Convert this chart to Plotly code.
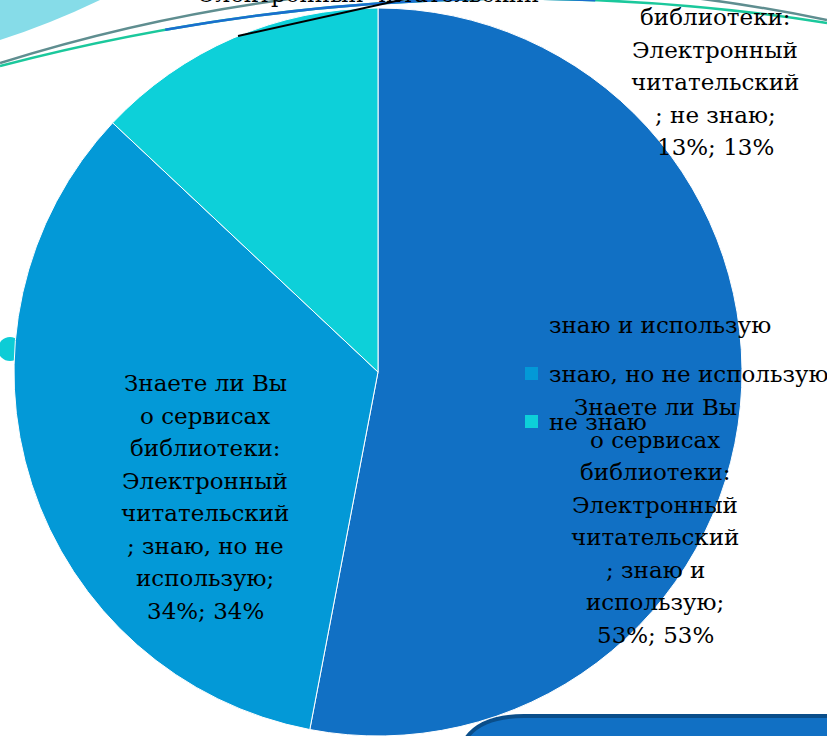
import plotly.graph_objects as go

W, H = 827, 736

categories = ["знаю и использую", "знаю, но не использую", "не знаю"]
values = [53, 34, 13]
colors = ["#1170C4", "#0399D7", "#0DD0D9"]
question_lines = ["Знаете ли Вы", "о сервисах", "библиотеки:", "Электронный", "читательский"]
label_suffix = [["; знаю и", "использую;"], ["; знаю, но не", "использую;"], ["; не знаю;"]]


def px(x, y):
    return x / W, 1 - y / H


def P(x, y):
    a, b = px(x, y)
    return f"{a:.5f},{b:.5f}"


def quad_split(p0, p1, p2, t0, t1):
    """Sub-curve of a quadratic bezier between t0 and t1."""
    def pt(t):
        return tuple((1 - t) ** 2 * a + 2 * t * (1 - t) * b + t ** 2 * c for a, b, c in zip(p0, p1, p2))

    def d(t):
        return tuple(2 * (1 - t) * (b - a) + 2 * t * (c - b) for a, b, c in zip(p0, p1, p2))

    s, e = pt(t0), pt(t1)
    ds = d(t0)
    h = (t1 - t0) / 2
    ctrl = (s[0] + ds[0] * h, s[1] + ds[1] * h)
    return s, ctrl, e


# pie geometry (pixels): center (378, 372), radius 364
cx, cy, r = 378, 372, 364
dom_x = [(cx - r) / W, (cx + r) / W]
dom_y = [max(0, 1 - (cy + r) / H), min(1, 1 - (cy - r) / H)]

fig = go.Figure(go.Pie(
    labels=categories, values=values, sort=False, direction="clockwise", rotation=0,
    marker=dict(colors=colors, line=dict(color="white", width=1)),
    textinfo="none", hoverinfo="label+percent", showlegend=False,
    domain=dict(x=dom_x, y=dom_y),
))

shapes = []
# small cyan circle behind pie
shapes.append(dict(type="circle", xref="paper", yref="paper", layer="below",
                   x0=px(-2, 0)[0], x1=px(22, 0)[0], y0=px(0, 361)[1], y1=px(0, 337)[1],
                   fillcolor="#0DCCD6", line=dict(width=0)))
# top-left light cyan shape
shapes.append(dict(type="path", xref="paper", yref="paper", layer="above",
                   path=f"M {P(0,0)} L {P(100,0)} Q {P(50,24)} {P(0,40)} Z",
                   fillcolor="#86DCE8", line=dict(width=0)))
# decorative curves
g0, g1, g2 = (0, 63), (413, -66), (827, 20)
shapes.append(dict(type="path", xref="paper", yref="paper", layer="above",
                   path=f"M {P(*g0)} Q {P(*g1)} {P(*g2)}",
                   line=dict(color="#5F8E90", width=2.5)))
b0, b1, b2 = (0, 66), (413, -42), (827, 23)
shapes.append(dict(type="path", xref="paper", yref="paper", layer="above",
                   path=f"M {P(*b0)} Q {P(*b1)} {P(*b2)}",
                   line=dict(color="#1BC89C", width=2.5)))
s, c, e = quad_split(b0, b1, b2, 0.2, 0.72)
shapes.append(dict(type="path", xref="paper", yref="paper", layer="above",
                   path=f"M {P(*s)} Q {P(*c)} {P(*e)}",
                   line=dict(color="#1A6ECF", width=2.5)))
# leader line
shapes.append(dict(type="line", xref="paper", yref="paper", layer="above",
                   x0=px(238, 36)[0], y0=px(238, 36)[1], x1=px(405, -1)[0], y1=px(405, -1)[1],
                   line=dict(color="black", width=2)))
# bottom-right rounded box
shapes.append(dict(type="path", xref="paper", yref="paper", layer="above",
                   path=f"M {P(465,740)} Q {P(480,716)} {P(524,716)} L {P(830,716)} L {P(830,740)} Z",
                   fillcolor="#1170C4", line=dict(color="#0A4E8A", width=4)))

# legend squares
leg_y = [325, 374, 422]
for col, ly in zip(colors, leg_y):
    shapes.append(dict(type="rect", xref="paper", yref="paper", layer="above",
                       x0=px(525, 0)[0], x1=px(538, 0)[0], y0=px(0, ly + 6)[1], y1=px(0, ly - 7)[1],
                       fillcolor=col, line=dict(width=0)))

font = dict(family="DejaVu Serif", size=23, color="black")
ann = []
for cat, ly in zip(categories, leg_y):
    x, y = px(547, ly)
    ann.append(dict(x=x, y=y, xref="paper", yref="paper", text=cat, showarrow=False,
                    xanchor="left", yanchor="middle", font=font))

# data labels, one annotation per line for PowerPoint-like line spacing
line_gap = 32.5
label_pos = [(655, 521), (205, 497), (715, 50)]
for v, suf, (lx, ly) in zip(values, label_suffix, label_pos):
    lines = question_lines + suf + [f"{v}%; {v}%"]
    n = len(lines)
    for i, t in enumerate(lines):
        x, y = px(lx, ly + (i - (n - 1) / 2) * line_gap)
        ann.append(dict(x=x, y=y, xref="paper", yref="paper", text=t, showarrow=False,
                        xanchor="center", yanchor="middle", align="center", font=font))
# partially visible label at the top
x, y = px(368, -6)
ann.append(dict(x=x, y=y, xref="paper", yref="paper", text="Электронный читательский",
                showarrow=False, xanchor="center", yanchor="middle", font=font))

fig.update_layout(width=W, height=H, margin=dict(l=0, r=0, t=0, b=0),
                  paper_bgcolor="white", plot_bgcolor="white",
                  shapes=shapes, annotations=ann, showlegend=False)
fig.write_html("out.html", config={"displayModeBar": False},
               post_script="document.body.style.margin='0';document.body.style.overflow='hidden';")
